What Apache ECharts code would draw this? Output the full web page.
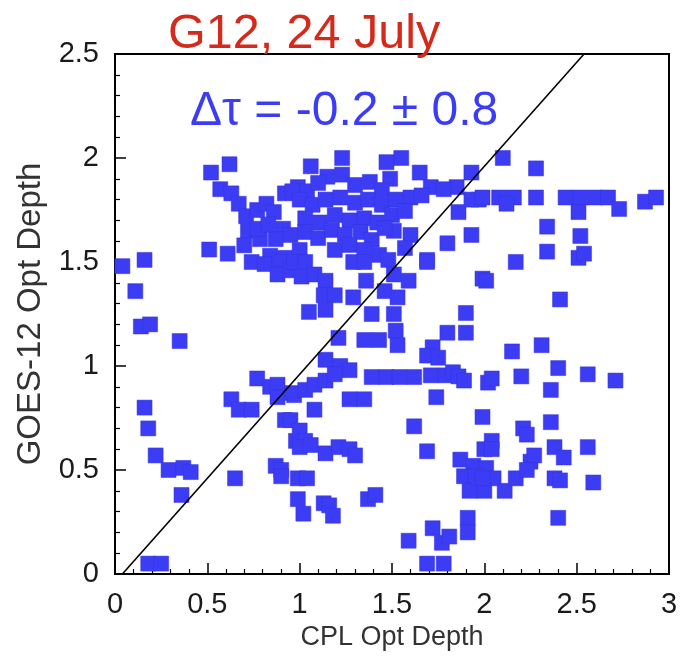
<!DOCTYPE html>
<html><head><meta charset="utf-8">
<script src="https://cdn.jsdelivr.net/npm/echarts@6/dist/echarts.min.js"></script>
<style>html,body{margin:0;padding:0;background:#fff}#c{width:681px;height:662px}</style>
</head><body><div id="c"></div>
<script>
// CPL optical depth (x) and GOES-12 optical depth (y)
const cplDepth = [
0.04,0.16,0.11,0.14,0.19,0.35,0.16,0.18,0.22,0.29,0.37,0.41,0.36,0.18,0.25,0.65,0.63,0.67,0.74,0.77,0.84,0.88,0.88,0.96,0.92,0.98,0.87,0.90,0.90,0.99,1.04,0.99,1.02,1.13,1.16,1.18,1.37,1.41,1.59,1.72,1.77,1.81,1.91,1.91,1.69,1.78,
0.52,0.62,0.57,0.63,0.67,0.71,0.72,0.77,0.82,0.86,0.92,0.99,0.91,0.95,0.87,0.51,0.61,0.74,0.84,0.92,0.81,0.89,0.88,0.95,0.70,0.785,0.77,0.83,
1.06,1.23,1.15,1.23,1.47,1.55,1.65,1.93,1.71,1.85,1.97,0.96,1.04,1.49,1.86,1.93,1.80,1.69,1.51,
1.10,1.30,1.38,1.445,1.00,1.07,1.14,1.22,1.30,1.37,1.445,1.52,1.60,1.66,1.78,1.93,
1.03,1.11,1.19,1.27,1.35,1.42,1.50,1.57,1.03,1.10,1.175,1.245,1.33,1.39,1.46,1.60,1.00,1.19,1.27,1.35,1.43,1.57,
0.97,1.03,1.01,1.08,1.14,1.13,1.19,1.05,1.14,1.29,1.29,1.35,1.36,1.48,1.51,1.59,1.46,1.53,1.69,1.39,1.51,1.52,1.53,1.35,1.43,1.21,1.90,1.80,1.90,1.99,1.72,1.14,1.22,1.27,
1.39,1.47,1.54,1.62,1.71,1.79,1.69,1.75,1.83,
0.97,1.03,1.08,1.14,1.19,1.86,1.89,1.27,1.35,1.74,1.08,1.99,1.62,0.95,1.00,1.03,1.00,1.06,1.14,1.21,1.27,1.30,1.69,1.87,1.94,2.00,2.02,
2.10,2.28,1.99,2.08,2.16,2.12,2.28,2.44,2.52,2.60,2.67,2.51,2.73,2.87,2.93,2.34,2.52,2.34,2.51,2.54,2.17,2.01,2.41,2.15,2.31,2.40,2.20,2.56,2.71,2.04,2.36,2.21,2.23,2.36,2.04,2.04,2.38,2.43,2.56,2.25,2.27,2.01,2.05,2.11,2.17,2.23,2.38,2.41,2.59,2.40,1.89,1.95,1.92,2.00,1.99
];
const goesDepth = [
1.48,1.51,1.36,1.19,1.20,1.12,0.80,0.70,0.57,0.50,0.51,0.49,0.38,0.05,0.05,0.46,0.84,0.79,0.79,0.94,0.90,0.91,0.85,0.87,0.74,0.64,0.52,0.50,0.47,0.46,0.46,0.36,0.29,0.34,0.33,0.28,0.36,0.38,0.16,0.22,0.15,0.18,0.27,0.20,0.05,0.05,
1.93,1.97,1.85,1.83,1.78,1.72,1.65,1.75,1.78,1.74,1.83,1.86,1.66,1.63,1.61,1.56,1.54,1.50,1.53,1.52,1.49,1.50,1.44,1.46,1.58,1.61,1.66,1.68,
1.96,2.00,1.91,1.92,1.98,2.00,1.93,1.93,1.86,1.86,1.80,1.84,1.84,1.90,1.74,1.63,1.59,1.51,1.65,
1.88,1.87,1.885,1.846,1.80,1.775,1.80,1.81,1.785,1.80,1.775,1.80,1.81,1.82,1.85,1.80,
1.71,1.69,1.726,1.70,1.71,1.69,1.726,1.745,1.644,1.615,1.654,1.63,1.644,1.606,1.663,1.63,1.558,1.558,1.582,1.558,1.534,1.567,
1.50,1.50,1.43,1.44,1.41,1.34,1.34,1.26,1.27,1.33,1.50,1.50,1.41,1.51,1.44,1.41,1.36,1.33,1.50,1.25,1.25,1.17,1.10,1.125,1.125,1.135,1.255,1.16,1.16,1.42,1.09,1.03,1.00,0.98,
0.947,0.947,0.947,0.947,0.955,0.955,1.05,1.04,0.97,
0.86,0.885,0.91,0.93,0.96,0.95,0.93,0.84,0.84,0.85,0.79,0.755,0.71,0.74,0.69,0.64,0.61,0.62,0.58,0.61,0.60,0.57,0.59,0.55,0.52,0.60,0.92,
2.00,1.95,1.81,1.81,1.81,1.78,1.81,1.81,1.81,1.81,1.81,1.74,1.755,1.79,1.81,1.67,1.625,1.55,1.52,1.54,1.50,1.41,1.32,1.07,1.10,0.99,0.95,0.96,0.93,0.94,0.885,0.70,0.67,0.73,0.64,0.60,0.61,0.56,0.61,0.54,0.57,0.51,0.46,0.40,0.46,0.50,0.46,0.45,0.44,0.27,0.47,0.47,0.40,0.40,0.46
];
// reference 1:1 line end points as drawn
const oneToOneX = [0.04, 2.54];
const oneToOneY = [0.0, 2.5];
const xTicks = [0, 0.5, 1, 1.5, 2, 2.5, 3];
const yTicks = [0, 0.5, 1, 1.5, 2, 2.5];
const titleText = 'G12, 24 July';
const statText = 'Δτ = -0.2 ± 0.8';

const pts = cplDepth.map((x, i) => [x, goesDepth[i]]);
const linePts = oneToOneX.map((x, i) => [x, oneToOneY[i]]);
const FONT = '"Liberation Sans", Arial, Helvetica, sans-serif';

const chart = echarts.init(document.getElementById('c'));
const axisCommon = {
  axisLine: {show: true, lineStyle: {color: '#000', width: 2}},
  axisTick: {show: true, inside: true, length: 11, lineStyle: {color: '#000', width: 1.5}},
  minorTick: {show: true, splitNumber: 5, length: 5, lineStyle: {color: '#000', width: 1.2}},
  splitLine: {show: false},
  axisLabel: {color: '#1a1a1a', fontSize: 29, fontFamily: FONT, margin: 16},
  nameTextStyle: {color: '#333', fontSize: 27, fontFamily: FONT}
};
chart.setOption({
  animation: false,
  backgroundColor: '#fff',
  grid: {left: 115, right: 12, top: 54, bottom: 88, show: true, borderColor: '#000', borderWidth: 2, backgroundColor: 'transparent'},
  xAxis: Object.assign({}, axisCommon, {
    type: 'value', min: xTicks[0], max: xTicks[xTicks.length-1], interval: xTicks[1]-xTicks[0],
    name: 'CPL Opt Depth', nameLocation: 'middle', nameGap: 50
  }),
  yAxis: Object.assign({}, axisCommon, {
    type: 'value', min: yTicks[0], max: yTicks[yTicks.length-1], interval: yTicks[1]-yTicks[0],
    name: 'GOES-12 Opt Depth', nameLocation: 'middle', nameGap: 67,
    nameTextStyle: {color: '#333', fontSize: 33, fontFamily: FONT}
  }),
  series: [
    {type: 'scatter', data: pts, symbol: 'rect', symbolSize: 15,
     itemStyle: {color: '#3c3cf4', borderColor: '#3434e0', borderWidth: 0.5, opacity: 1}, z: 2},
    {type: 'line', data: linePts, showSymbol: false, symbol: 'none', clip: true,
     lineStyle: {color: '#000', width: 1.6}, z: 3}
  ],
  graphic: [
    {type: 'text', left: 168, top: 10, style: {text: titleText, fill: '#d42a1c', font: '48.5px ' + FONT}},
    {type: 'text', left: 190, top: 88, style: {text: statText, fill: '#3c3cf4', font: '48px ' + FONT}}
  ]
});
</script></body></html>
